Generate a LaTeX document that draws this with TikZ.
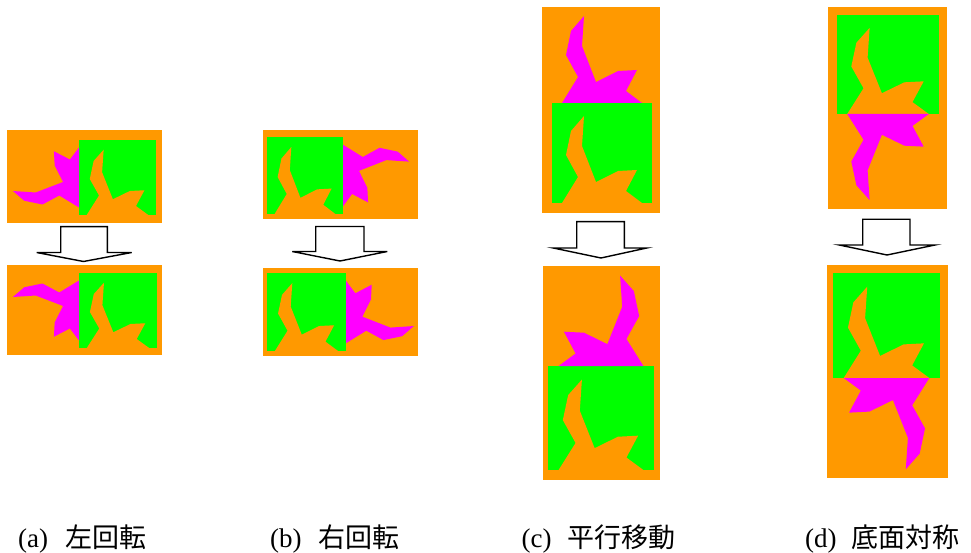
\documentclass[tikz,border=0pt]{standalone}
\usepackage{fontspec}
\setmainfont{Liberation Serif}
\newfontfamily\cjk{Noto Sans CJK JP}
\definecolor{bgorange}{RGB}{255,153,0}
\definecolor{sqgreen}{RGB}{0,255,0}
\definecolor{shmagenta}{RGB}{255,0,255}
\newcommand\Spath{(0.32,0.87) -- (0.19,0.72) -- (0.14,0.48) -- (0.26,0.26) -- (0.10,0) -- (0.90,0) -- (0.74,0.12) -- (0.85,0.33) -- (0.66,0.32) -- (0.44,0.21) -- (0.30,0.57) -- cycle}
% #1 colour, #2,#3 origin (px, y down), #4,#5 U vector, #6,#7 V vector
\newcommand\Sfill[7]{%
  \begin{scope}[shift={(#2,#3)}, x={(#4pt,-#5pt)}, y={(#6pt,-#7pt)}]
    \fill[#1] \Spath;
  \end{scope}}
\tikzset{
  arrowbox/.style={draw=black, fill=white, line width=1.4pt, line join=miter},
  caption/.style={anchor=base west, inner sep=0pt, font=\fontsize{27}{30}\selectfont}
}
\begin{document}
\begin{tikzpicture}[x=1pt,y=-1pt]
\useasboundingbox (0,0) rectangle (971,553);
\fill[white] (0,0) rectangle (971,553);

% ---------- (a) top ----------
\fill[bgorange] (7,130) rectangle (162,223);
\fill[sqgreen] (79,140) rectangle (156,215);
\Sfill{bgorange}{79}{215}{77}{0}{0}{-75}
\Sfill{shmagenta}{79}{215}{0}{-75}{-76}{0}
% ---------- (a) bottom ----------
\fill[bgorange] (7,265) rectangle (162,355);
\fill[sqgreen] (79,273) rectangle (157,348);
\Sfill{bgorange}{79}{348}{78}{0}{0}{-75}
\Sfill{shmagenta}{79}{273}{0}{75}{-76}{0}

% ---------- (b) top ----------
\fill[bgorange] (263,130) rectangle (418,219);
\fill[sqgreen] (267,137) rectangle (343,214);
\Sfill{bgorange}{267}{214}{76}{0}{0}{-77}
\Sfill{shmagenta}{343}{137}{0}{77}{76}{0}
% ---------- (b) bottom ----------
\fill[bgorange] (263,268) rectangle (418,356);
\fill[sqgreen] (267,273) rectangle (346,351);
\Sfill{bgorange}{267}{351}{79}{0}{0}{-78}
\Sfill{shmagenta}{346}{351}{0}{-78}{78}{0}

% ---------- (c) top ----------
\fill[bgorange] (542,7) rectangle (660,213);
\fill[sqgreen] (552,103) rectangle (652,203);
\Sfill{bgorange}{552}{203}{100}{0}{0}{-100}
\Sfill{shmagenta}{552}{103}{100}{0}{0}{-100}
% ---------- (c) bottom ----------
\fill[bgorange] (543,266) rectangle (660,480);
\fill[sqgreen] (548,366) rectangle (654,470);
\Sfill{bgorange}{548}{470}{106}{0}{0}{-104}
\Sfill{shmagenta}{654}{366}{-106}{0}{0}{-104}

% ---------- (d) top ----------
\fill[bgorange] (828,7) rectangle (947,209);
\fill[sqgreen] (837,15) rectangle (939,114);
\Sfill{bgorange}{837}{114}{102}{0}{0}{-99}
\Sfill{shmagenta}{837}{114}{102}{0}{0}{99}
% ---------- (d) bottom ----------
\fill[bgorange] (827,265) rectangle (948,478);
\fill[sqgreen] (833,273) rectangle (940,378);
\Sfill{bgorange}{833}{378}{107}{0}{0}{-105}
\Sfill{shmagenta}{940}{378}{-107}{0}{0}{105}

% ---------- arrows ----------
\draw[arrowbox] (60.7,226.7) -- (60.7,252.5) -- (36.7,252.5) -- (83.5,261.5) -- (131.7,252.5) -- (107.3,252.5) -- (107.3,226.7) -- cycle;
\draw[arrowbox] (315.7,226.5) -- (315.7,251.5) -- (292.3,251.5) -- (340,261) -- (387.3,251.5) -- (364,251.5) -- (364,226.5) -- cycle;
\draw[arrowbox] (576.7,221.7) -- (576.7,248) -- (553.3,248) -- (601,258) -- (646.7,248) -- (624.3,248) -- (624.3,221.7) -- cycle;
\draw[arrowbox] (862.7,219.3) -- (862.7,245) -- (839.3,245) -- (887,255) -- (935,245) -- (910,245) -- (910,219.3) -- cycle;

% ---------- captions ----------
\node[caption] (capa) at (18,547) {(a)\hspace{17pt}{\cjk 左回転}};
\node[caption] (capb) at (270,547) {(b)\hspace{17pt}{\cjk 右回転}};
\node[caption] (capc) at (521.5,547) {(c)\hspace{16pt}{\cjk 平行移動}};
\node[caption] (capd) at (805,547) {(d)\hspace{15pt}{\cjk 底面対称}};
\end{tikzpicture}
\end{document}
